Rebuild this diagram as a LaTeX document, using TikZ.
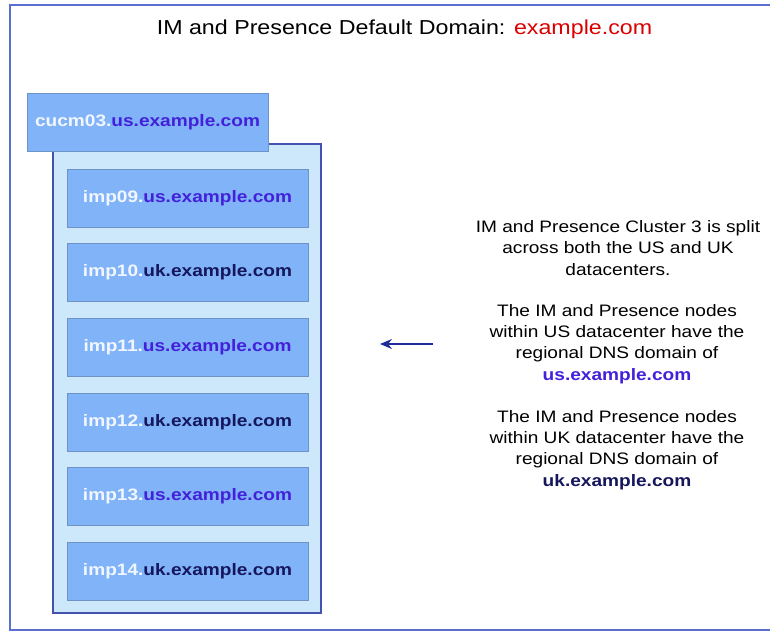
\documentclass[tikz,border=0pt]{standalone}
\usepackage{fontspec}
\setmainfont[FakeStretch=1.15]{Liberation Sans}
\usetikzlibrary{arrows.meta}
\definecolor{framec}{HTML}{5A6FD0}
\definecolor{cluster}{HTML}{CDE7FB}
\definecolor{clusterline}{HTML}{4451AE}
\definecolor{boxfill}{HTML}{80B3F8}
\definecolor{boxline}{HTML}{6E93C6}
\definecolor{usc}{HTML}{4321DA}
\definecolor{ukc}{HTML}{15165C}
\definecolor{hostc}{HTML}{F2F6FF}
\definecolor{arrowc}{HTML}{1E2C9C}
\newcommand{\us}{\textcolor{usc}{us.example.com}}
\newcommand{\uk}{\textcolor{ukc}{uk.example.com}}
\tikzset{
  hostbox/.style={rectangle, fill=boxfill, draw=boxline, line width=1pt,
    minimum width=241pt, minimum height=58pt, inner sep=0pt,
    font=\fontsize{16.6}{18}\selectfont\bfseries, text=hostc},
  notetext/.style={align=center, font=\fontsize{16.6}{21.2}\selectfont, inner sep=0pt}
}
\begin{document}
\begin{tikzpicture}[x=1pt, y=-1pt]
    \useasboundingbox (0,0) rectangle (770,632);
    \draw [framec, line width=2pt] (772,4.5) -- (9.5,4.5) -- (9.5,629.5) -- (772,629.5);
    \node (title) at (404.5,29) {\fontsize{20.2}{22}\selectfont IM and Presence Default Domain: \textcolor{red!85!black}{example.com}};
    \node (cluster) [rectangle, fill=cluster, draw=clusterline, line width=1.6pt,
      minimum width=268pt, minimum height=469pt] at (187,378.5) {};
    \node (cucm) [hostbox] at (147.5,122) {cucm03.\us};
    \node (imp09) [hostbox] at (187.5,198) {imp09.\us};
    \node (imp10) [hostbox] at (187.5,272.5) {imp10.\uk};
    \node (imp11) [hostbox] at (187.5,347) {imp11.\us};
    \node (imp12) [hostbox] at (187.5,422) {imp12.\uk};
    \node (imp13) [hostbox] at (187.5,496) {imp13.\us};
    \node (imp14) [hostbox] at (187.5,571) {imp14.\uk};
    \node (split) [notetext] at (618,248) {IM and Presence Cluster 3 is split\\across both the US and UK\\datacenters.};
    \node (usnote) [notetext] at (617,344) {The IM and Presence nodes\\within US datacenter have the\\regional DNS domain of\\\textbf{\us}};
    \node (uknote) [notetext] at (617,450) {The IM and Presence nodes\\within UK datacenter have the\\regional DNS domain of\\\textbf{\uk}};
    \coordinate (tail) at (433,344);
    \coordinate (head) at (380,344);
    \draw [-{Stealth[length=12pt, width=10pt]}, arrowc, line width=1.4pt] (tail) -- (head);
\end{tikzpicture}
\end{document}
